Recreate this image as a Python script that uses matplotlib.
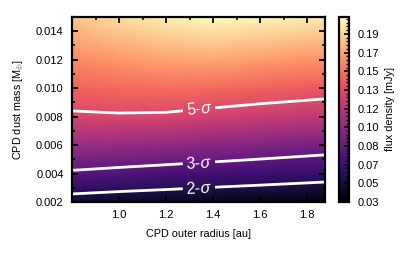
import numpy as np
import matplotlib
matplotlib.use("Agg")
import matplotlib.pyplot as plt
from matplotlib.ticker import MultipleLocator, AutoMinorLocator, FixedLocator

plt.rcParams["font.family"] = ["Liberation Sans", "DejaVu Sans"]
plt.rcParams["mathtext.fontset"] = "custom"
plt.rcParams["mathtext.rm"] = "Liberation Sans"
plt.rcParams["mathtext.it"] = "Liberation Sans:italic"

# CPD outer radius [au] and dust mass [M_earth] grid nodes
radius = [0.80, 1.00, 1.20, 1.40, 1.60, 1.876]
mass = [0.002, 0.003, 0.004, 0.005, 0.006, 0.008, 0.010, 0.012, 0.015]

# flux density [mJy], one row per mass, one column per radius
flux = [
    [0.0445, 0.0418, 0.0401, 0.0380, 0.0363, 0.0330],
    [0.0613, 0.0585, 0.0560, 0.0535, 0.0513, 0.0483],
    [0.0780, 0.0747, 0.0716, 0.0688, 0.0661, 0.0625],
    [0.0915, 0.0895, 0.0868, 0.0838, 0.0808, 0.0767],
    [0.1043, 0.1035, 0.1014, 0.0981, 0.0947, 0.0906],
    [0.1320, 0.1329, 0.1321, 0.1284, 0.1251, 0.1214],
    [0.1471, 0.1500, 0.1515, 0.1503, 0.1471, 0.1433],
    [0.1623, 0.1672, 0.1709, 0.1722, 0.1690, 0.1652],
    [0.1850, 0.1930, 0.2000, 0.2050, 0.2020, 0.1980],
]

sigma = 0.027
levels = [2 * sigma, 3 * sigma, 5 * sigma]
level_names = ["2-$\\sigma$", "3-$\\sigma$", "5-$\\sigma$"]

x_ticks = [1.0, 1.2, 1.4, 1.6, 1.8]
cbar_labels = ["0.03", "0.05", "0.07", "0.08", "0.10",
               "0.12", "0.13", "0.15", "0.17", "0.19"]

vmin, vmax = 0.03, 0.205

fig = plt.figure(figsize=(4.15, 2.56), dpi=100)
ax = fig.add_axes([0.1735, 0.211, 0.6095, 0.723])
cax = fig.add_axes([0.817, 0.211, 0.024, 0.723])

R, M = np.meshgrid(radius, mass)
Z = np.array(flux)

mesh = ax.pcolormesh(R, M, Z, shading="gouraud", cmap="magma",
                     vmin=vmin, vmax=vmax, rasterized=True)

cs = ax.contour(R, M, Z, levels=levels, colors="white", linewidths=2)
fmt = dict(zip(cs.levels, level_names))
ax.clabel(cs, fmt=fmt, fontsize=11.5, inline=True, inline_spacing=3,
          manual=[(1.34, 0.0030), (1.34, 0.0048), (1.34, 0.0086)])

ax.set_xlim(0.8, 1.876)
ax.set_ylim(0.002, 0.015)
ax.xaxis.set_major_locator(FixedLocator(x_ticks))
ax.xaxis.set_minor_locator(MultipleLocator(0.1))
ax.yaxis.set_major_locator(MultipleLocator(0.002))
ax.yaxis.set_minor_locator(MultipleLocator(0.001))
ax.xaxis.set_major_formatter(plt.FormatStrFormatter("%.1f"))
ax.yaxis.set_major_formatter(plt.FormatStrFormatter("%.3f"))
ax.tick_params(which="both", direction="in", top=True, right=True,
               labelsize=8, color="black")
ax.tick_params(which="major", length=4, width=1.3, pad=6)
ax.tick_params(which="minor", length=2.5, width=1.1)
for s in ax.spines.values():
    s.set_linewidth(1.6)

ax.set_xlabel("CPD outer radius [au]", fontsize=7.8, labelpad=6)
ax.set_ylabel("CPD dust mass [M$_{\\oplus}$]", fontsize=7.8, labelpad=7)

cb = fig.colorbar(mesh, cax=cax)
ticks = np.linspace(vmin, vmin + 0.908 * (vmax - vmin), len(cbar_labels))
cb.set_ticks(ticks)
cb.set_ticklabels(cbar_labels)
cb.ax.yaxis.set_minor_locator(AutoMinorLocator(5))
cb.ax.tick_params(which="both", direction="in", labelsize=8, right=True)
cb.ax.tick_params(which="major", length=3.5, width=1.2, pad=6)
cb.ax.tick_params(which="minor", length=2, width=1)
cb.outline.set_linewidth(1.6)
cb.set_label("flux density [mJy]", fontsize=7.8, labelpad=4)

fig.savefig("out.png", dpi=100)
